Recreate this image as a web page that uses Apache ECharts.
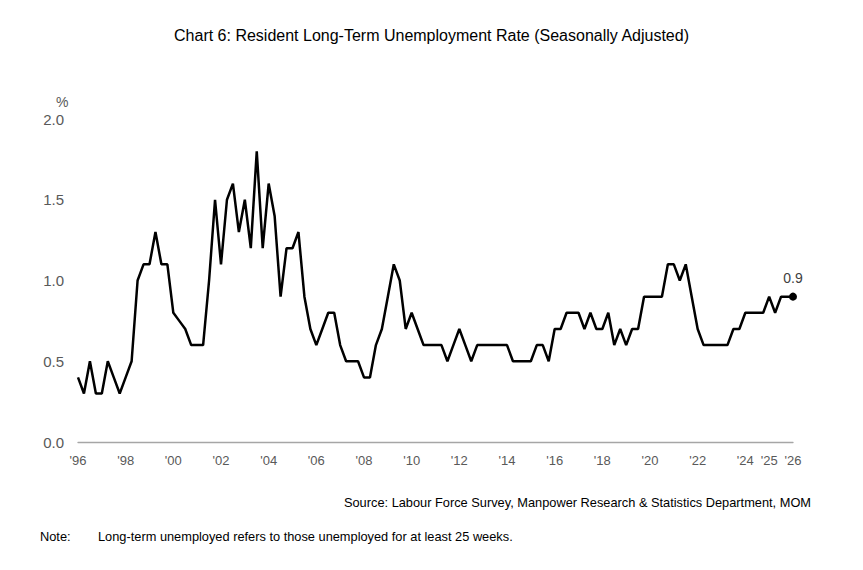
<!DOCTYPE html>
<html>
<head>
<meta charset="utf-8">
<script src="https://cdn.jsdelivr.net/npm/echarts@6/dist/echarts.min.js"></script>
<style>
  html, body { margin: 0; padding: 0; background: #fff; }
  #chart { width: 863px; height: 570px; }
</style>
</head>
<body>
<div id="chart"></div>
<script>
// quarterly, 1996Q1 onwards
var startYear = 1996;
var rate = [
  0.4, 0.3, 0.5, 0.3, 0.3, 0.5, 0.4, 0.3, 0.4, 0.5,
  1.0, 1.1, 1.1, 1.3, 1.1, 1.1, 0.8, 0.75, 0.7, 0.6,
  0.6, 0.6, 1.0, 1.5, 1.1, 1.5, 1.6, 1.3, 1.5, 1.2,
  1.8, 1.2, 1.6, 1.4, 0.9, 1.2, 1.2, 1.3, 0.9, 0.7,
  0.6, 0.7, 0.8, 0.8, 0.6, 0.5, 0.5, 0.5, 0.4, 0.4,
  0.6, 0.7, 0.9, 1.1, 1.0, 0.7, 0.8, 0.7, 0.6, 0.6,
  0.6, 0.6, 0.5, 0.6, 0.7, 0.6, 0.5, 0.6, 0.6, 0.6,
  0.6, 0.6, 0.6, 0.5, 0.5, 0.5, 0.5, 0.6, 0.6, 0.5,
  0.7, 0.7, 0.8, 0.8, 0.8, 0.7, 0.8, 0.7, 0.7, 0.8,
  0.6, 0.7, 0.6, 0.7, 0.7, 0.9, 0.9, 0.9, 0.9, 1.1,
  1.1, 1.0, 1.1, 0.9, 0.7, 0.6, 0.6, 0.6, 0.6, 0.6,
  0.7, 0.7, 0.8, 0.8, 0.8, 0.8, 0.9, 0.8, 0.9, 0.9, 0.9
];

var categories = [];
for (var i = 0; i < rate.length; i++) {
  categories.push((startYear + Math.floor(i / 4)) + 'Q' + (i % 4 + 1));
}

// axis labels shown at these quarters
var tickQuarters = ['1996Q1','1998Q1','2000Q1','2002Q1','2004Q1','2006Q1','2008Q1','2010Q1',
  '2012Q1','2014Q1','2016Q1','2018Q1','2020Q1','2022Q1','2024Q1','2025Q1','2026Q1'];
var tickLabels = ["'96","'98","'00","'02","'04","'06","'08","'10",
  "'12","'14","'16","'18","'20","'22","'24","'25","'26"];

var lastIdx = rate.length - 1;
var seriesData = rate.map(function(v, i) {
  if (i === lastIdx) {
    return {
      value: v,
      symbol: 'circle',
      symbolSize: 8,
      itemStyle: { color: '#000' },
      label: {
        show: true, position: 'top', distance: 8,
        formatter: function(p) { return p.value.toFixed(1); },
        color: '#404040', fontSize: 14, fontFamily: 'Liberation Sans'
      }
    };
  }
  return v;
});

var chart = echarts.init(document.getElementById('chart'), null, { renderer: 'svg' });
chart.setOption({
  animation: false,
  backgroundColor: '#fff',
  textStyle: { fontFamily: 'Liberation Sans' },
  title: {
    text: 'Chart 6: Resident Long-Term Unemployment Rate (Seasonally Adjusted)',
    left: 'center', top: 22,
    textStyle: { fontSize: 16, fontWeight: 'normal', color: '#000', fontFamily: 'Liberation Sans' }
  },
  graphic: [
    { type: 'text', left: 56, top: 95,
      style: { text: '%', fontSize: 14, fill: '#595959', fontFamily: 'Liberation Sans' } },
    { type: 'text', right: 52, top: 496,
      style: { text: 'Source: Labour Force Survey, Manpower Research & Statistics Department, MOM',
        fontSize: 12.8, fill: '#000', fontFamily: 'Liberation Sans' } },
    { type: 'text', left: 40, top: 530,
      style: { text: 'Note:', fontSize: 12.8, fill: '#000', fontFamily: 'Liberation Sans' } },
    { type: 'text', left: 98, top: 530,
      style: { text: 'Long-term unemployed refers to those unemployed for at least 25 weeks.',
        fontSize: 12.8, fill: '#000', fontFamily: 'Liberation Sans' } }
  ],
  grid: { left: 78, right: 70, top: 119, bottom: 128, containLabel: false },
  xAxis: {
    type: 'category',
    data: categories,
    boundaryGap: false,
    axisLine: { show: true, lineStyle: { color: '#a6a6a6', width: 1.3 } },
    axisTick: { show: false },
    axisLabel: {
      interval: function(idx, val) { return tickQuarters.indexOf(val) >= 0; },
      formatter: function(val) { return tickLabels[tickQuarters.indexOf(val)]; },
      color: '#595959', fontSize: 13, margin: 12, fontFamily: 'Liberation Sans'
    }
  },
  yAxis: {
    type: 'value',
    min: 0, max: 2, interval: 0.5,
    axisLine: { show: false },
    axisTick: { show: false },
    splitLine: { show: false },
    axisLabel: {
      formatter: function(v) { return v.toFixed(1); },
      color: '#595959', fontSize: 15, margin: 14, fontFamily: 'Liberation Sans'
    }
  },
  series: [{
    type: 'line',
    data: seriesData,
    showSymbol: true,
    symbol: 'none',
    lineStyle: { color: '#000', width: 2.5 },
    itemStyle: { color: '#000' }
  }]
});
</script>
</body>
</html>
